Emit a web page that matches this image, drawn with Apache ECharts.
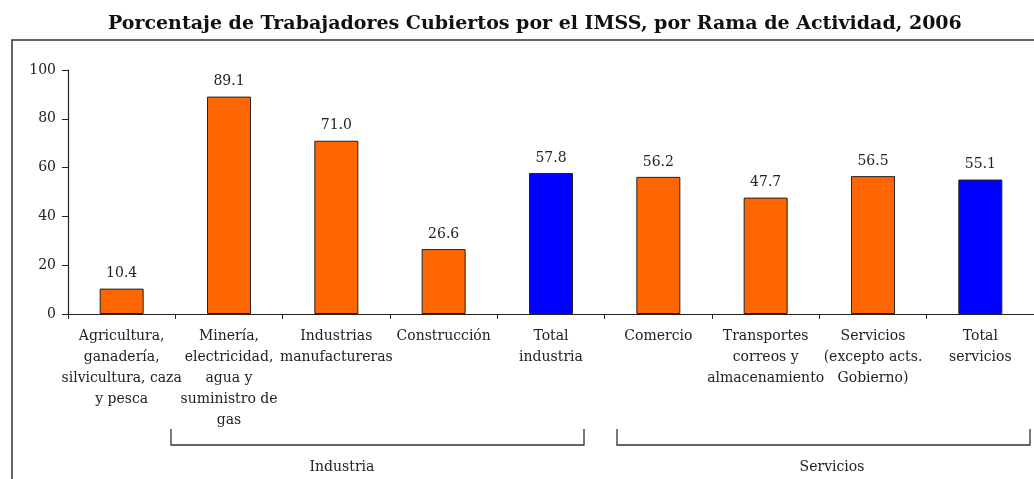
<!DOCTYPE html>
<html>
<head>
<meta charset="utf-8">
<script src="https://cdn.jsdelivr.net/npm/echarts@6/dist/echarts.min.js"></script>
<style>
  html, body { margin: 0; padding: 0; background: #fff; }
  #chart { width: 1034px; height: 479px; }
</style>
</head>
<body>
<div id="chart"></div>
<script>
// categorias y valores (porcentaje cubierto por el IMSS)
const categories = [
  'Agricultura,\nganadería,\nsilvicultura, caza\ny pesca',
  'Minería,\nelectricidad,\nagua y\nsuministro de\ngas',
  'Industrias\nmanufactureras',
  'Construcción',
  'Total\nindustria',
  'Comercio',
  'Transportes\ncorreos y\nalmacenamiento',
  'Servicios\n(excepto acts.\nGobierno)',
  'Total\nservicios'
]
const values = [10.4, 89.1, 71.0, 26.6, 57.8, 56.2, 47.7, 56.5, 55.1]
const yTicks = [0, 20, 40, 60, 80, 100]
const groupNames = ['Industria', 'Servicios']

const serif = '"DejaVu Serif", "Liberation Serif", serif'

let myChart = echarts.init(document.getElementById('chart'))

let option = {
  animation: false,
  title: {
    text: 'Porcentaje de Trabajadores Cubiertos por el IMSS, por Rama de Actividad, 2006',
    left: 103,
    top: 10,
    textStyle: { fontFamily: serif, fontSize: 19, fontWeight: 'bold', color: '#111' }
  },
  grid: { left: 68, right: 0, top: 70, bottom: 165 },
  xAxis: {
    type: 'category',
    data: categories,
    axisLine: { lineStyle: { color: '#222', width: 1.2 } },
    axisTick: { show: true, length: 5, lineStyle: { color: '#222' } },
    axisLabel: {
      interval: 0,
      margin: 12,
      fontFamily: serif,
      fontSize: 14,
      lineHeight: 21,
      color: '#222'
    }
  },
  yAxis: {
    type: 'value',
    min: yTicks[0],
    max: yTicks[yTicks.length - 1],
    interval: 20,
    splitLine: { show: false },
    axisLine: { show: true, lineStyle: { color: '#222', width: 1.2 } },
    axisTick: { show: true, length: 6, lineStyle: { color: '#222' } },
    axisLabel: { fontFamily: serif, fontSize: 14, color: '#222', margin: 12 }
  },
  series: [{
    type: 'bar',
    data: values,
    barWidth: 44,
    itemStyle: {
      // los totales van en azul
      color: (p) => p.name.indexOf('Total') === 0 ? '#0000FF' : '#FF6600',
      borderColor: '#222',
      borderWidth: 1
    },
    label: {
      show: true,
      position: 'top',
      distance: 8,
      formatter: (p) => p.value.toFixed(1),
      fontFamily: serif,
      fontSize: 14,
      color: '#222'
    }
  }],
  graphic: [
    // marco
    {
      type: 'rect',
      shape: { x: 12, y: 40, width: 1040, height: 460 },
      style: { fill: 'none', stroke: '#333', lineWidth: 1.5 },
      silent: true
    },
    // llave Industria
    {
      type: 'polyline',
      shape: { points: [[171, 429], [171, 445], [584, 445], [584, 429]] },
      style: { fill: 'none', stroke: '#333', lineWidth: 1.3 }
    },
    {
      type: 'text',
      x: 342, y: 467,
      style: { text: groupNames[0], fontFamily: serif, fontSize: 14, fill: '#222', align: 'center', verticalAlign: 'middle' }
    },
    // llave Servicios
    {
      type: 'polyline',
      shape: { points: [[617, 429], [617, 445], [1030, 445], [1030, 429]] },
      style: { fill: 'none', stroke: '#333', lineWidth: 1.3 }
    },
    {
      type: 'text',
      x: 832, y: 467,
      style: { text: groupNames[1], fontFamily: serif, fontSize: 14, fill: '#222', align: 'center', verticalAlign: 'middle' }
    }
  ]
}

myChart.setOption(option)
</script>
</body>
</html>
